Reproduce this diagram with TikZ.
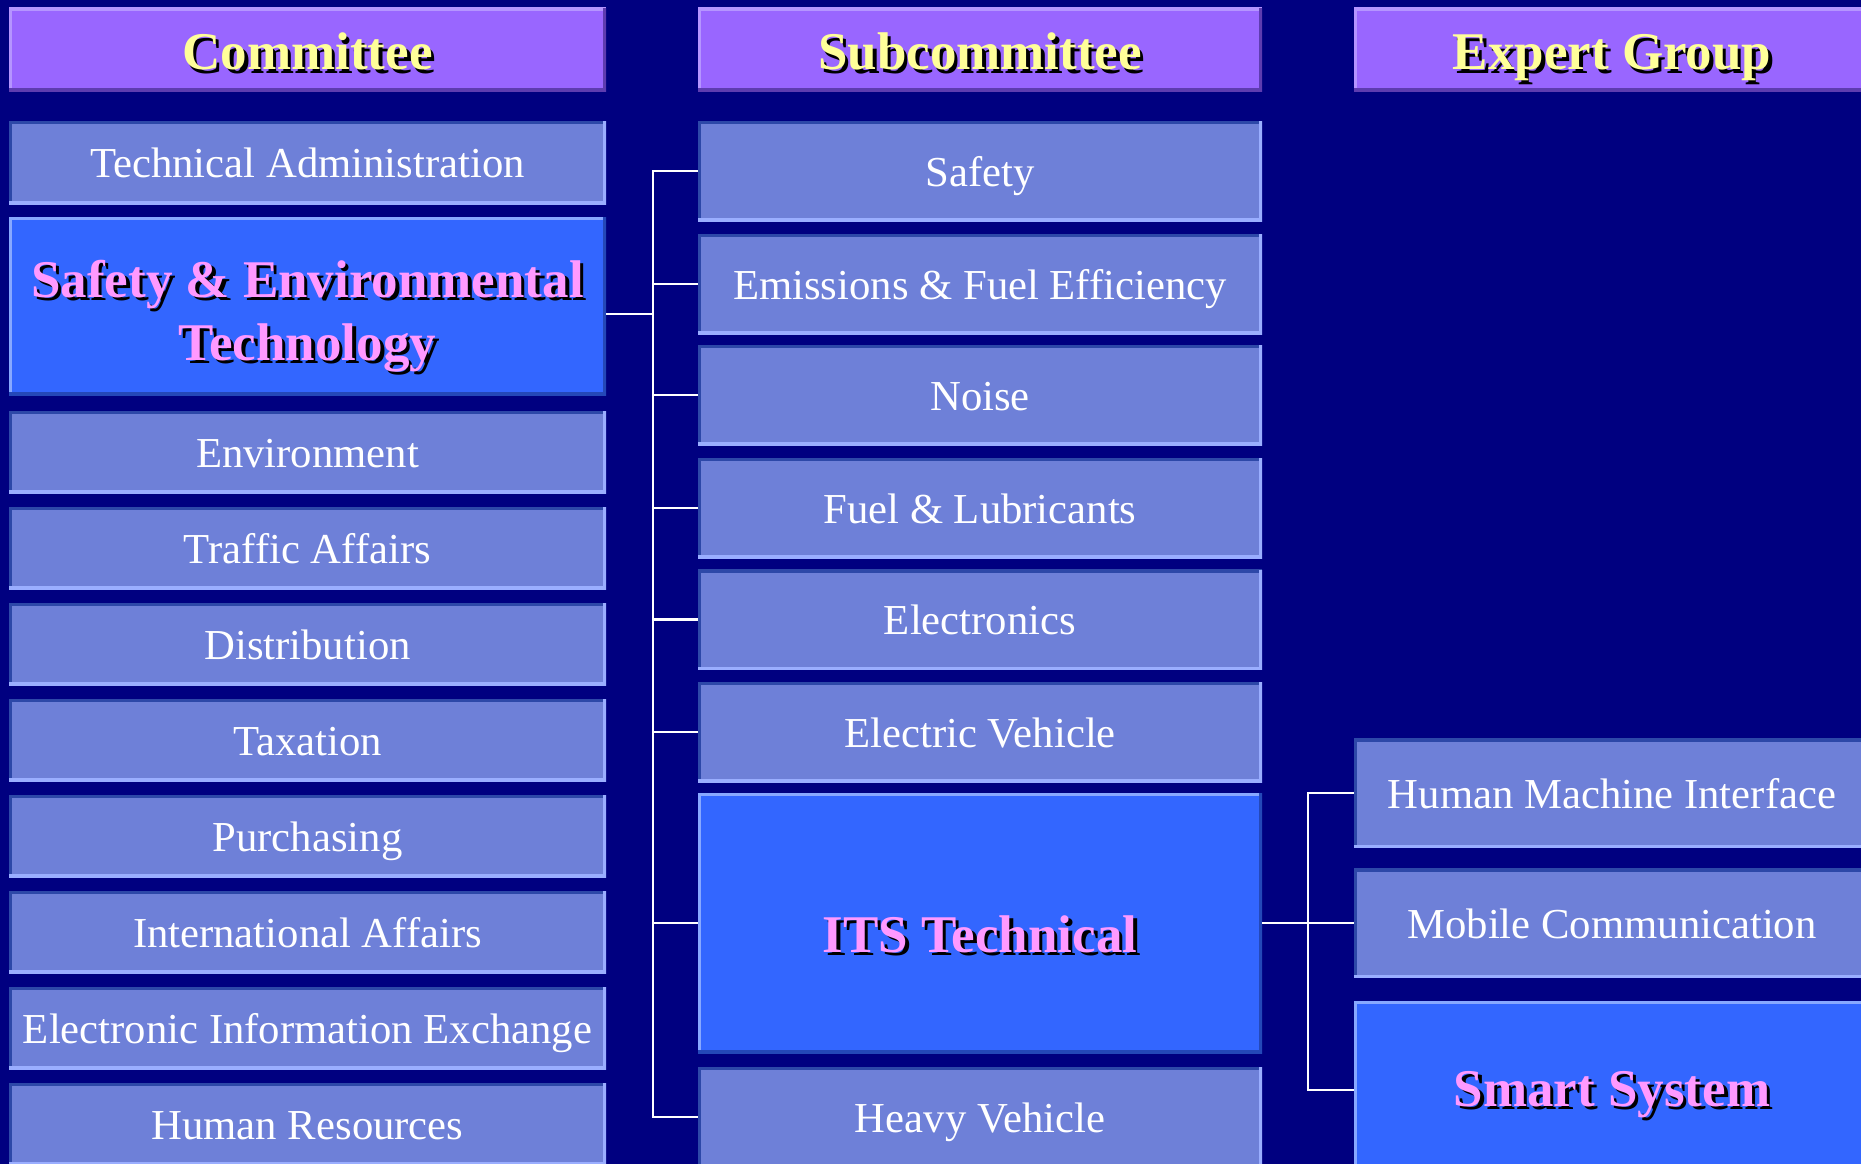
\documentclass[tikz,border=0pt]{standalone}
\usepackage{fontspec}
\setmainfont{Liberation Serif}
\definecolor{bg}{HTML}{000080}
\definecolor{hdfill}{HTML}{9966FF}
\definecolor{hdlight}{HTML}{B595FF}
\definecolor{hddark}{HTML}{5E3CB0}
\definecolor{lbfill}{HTML}{6E80D8}
\definecolor{lblight}{HTML}{9AAEFF}
\definecolor{lbdark}{HTML}{2D48A8}
\definecolor{hlfill}{HTML}{3366FF}
\definecolor{hllight}{HTML}{88A8FF}
\definecolor{hldark}{HTML}{2448B8}
\definecolor{pinktxt}{HTML}{FF99FF}
\definecolor{yeltxt}{HTML}{FFFF99}
\newcommand\shtx[2]{\leavevmode\rlap{\kern3.5pt\raisebox{-3.5pt}{\color{black}#2}}\textcolor{#1}{#2}}
\begin{document}
\begin{tikzpicture}[x=1pt,y=-1pt,
  bevel/.style 2 args={path picture={
    \draw[line width=6pt,#1] (path picture bounding box.south west) -- (path picture bounding box.north west) -- (path picture bounding box.north east);
    \draw[line width=6pt,#2] (path picture bounding box.north east) -- (path picture bounding box.south east) -- (path picture bounding box.south west);}},
  basebox/.style={rectangle, inner sep=0pt, outer sep=0pt, align=center},
  hdbox/.style={basebox, fill=hdfill, bevel={hdlight}{hddark}, font=\fontsize{53pt}{63pt}\selectfont\bfseries, text height=45pt, text depth=4pt},
  lbox/.style={basebox, fill=lbfill, bevel={lbdark}{lblight}, text=white, font=\fontsize{42.7pt}{50pt}\selectfont, text height=36pt, text depth=6pt},
  hlbox/.style={basebox, fill=hlfill, bevel={hllight}{hldark}, font=\fontsize{53pt}{63pt}\selectfont\bfseries},
  cA/.style={minimum width=597pt},
  cB/.style={minimum width=564pt},
  cC/.style={minimum width=516pt},
  conn/.style={draw=white, line width=2.4pt}
]
\clip (0,0) rectangle (1861,1164);
\fill[bg] (0,0) rectangle (1861,1164);

% headers
\node[hdbox,cA,minimum height=83pt] (h1) at (307.5,49.5) {\shtx{yeltxt}{Committee}};
\node[hdbox,cB,minimum height=83pt] (h2) at (980,49.5) {\shtx{yeltxt}{Subcommittee}};
\node[hdbox,cC,minimum height=83pt] (h3) at (1612,49.5) {\shtx{yeltxt}{Expert Group}};

% committee column
\node[lbox,cA,minimum height=83pt] (ta) at (307.5,162.5) {Technical Administration};
\node[hlbox,cA,minimum height=178pt,text height=113pt,text depth=5pt] (set) at (307.5,306) {\shtx{pinktxt}{Safety \& Environmental}\\\shtx{pinktxt}{Technology}};
\node[lbox,cA,minimum height=82pt] (env) at (307.5,452) {Environment};
\node[lbox,cA,minimum height=82pt] (tra) at (307.5,548) {Traffic Affairs};
\node[lbox,cA,minimum height=82pt] (dis) at (307.5,644) {Distribution};
\node[lbox,cA,minimum height=82pt] (tax) at (307.5,740) {Taxation};
\node[lbox,cA,minimum height=82pt] (pur) at (307.5,836) {Purchasing};
\node[lbox,cA,minimum height=82pt] (int) at (307.5,932) {International Affairs};
\node[lbox,cA,minimum height=82pt] (eie) at (307.5,1028) {Electronic Information Exchange};
\node[lbox,cA,minimum height=82pt] (hr) at (307.5,1124) {Human Resources};

% subcommittee column
\node[lbox,cB,minimum height=100pt] (sf) at (980,171) {Safety};
\node[lbox,cB,minimum height=100pt] (emi) at (980,284) {Emissions \& Fuel Efficiency};
\node[lbox,cB,minimum height=100pt] (noi) at (980,395) {Noise};
\node[lbox,cB,minimum height=100pt] (fue) at (980,508) {Fuel \& Lubricants};
\node[lbox,cB,minimum height=100pt] (ele) at (980,619.5) {Electronics};
\node[lbox,cB,minimum height=100pt] (ev) at (980,732) {Electric Vehicle};
\node[hlbox,cB,minimum height=260pt,text height=63pt,text depth=5pt] (its) at (980,923) {\shtx{pinktxt}{ITS Technical}};
\node[lbox,cB,minimum height=100pt] (hv) at (980,1117) {Heavy Vehicle};

% expert group column
\node[lbox,cC,minimum height=109pt] (hmi) at (1612,793) {Human Machine Interface};
\node[lbox,cC,minimum height=109pt] (mob) at (1612,923) {Mobile Communication};
\node[hlbox,cC,minimum height=170pt,text height=45pt,text depth=5pt] (ss) at (1612,1086) {\shtx{pinktxt}{Smart System}};

% connectors
\coordinate (bus1) at (653,0);
\coordinate (bus2) at (1308,0);
\draw[conn] ([yshift=-8pt]set.east) -- ([yshift=-8pt]set.east -| bus1);
\draw[conn] (sf.west) -- (sf.west -| bus1) -- (hv.west -| bus1) -- (hv.west);
\foreach \n in {emi,noi,fue,ele,ev,its}{
  \draw[conn] (\n.west) -- (\n.west -| bus1);
}
\draw[conn] (its.east) -- (mob.west);
\draw[conn] (hmi.west) -- (hmi.west -| bus2) -- ([yshift=-4pt]ss.west -| bus2) -- ([yshift=-4pt]ss.west);
\end{tikzpicture}
\end{document}
